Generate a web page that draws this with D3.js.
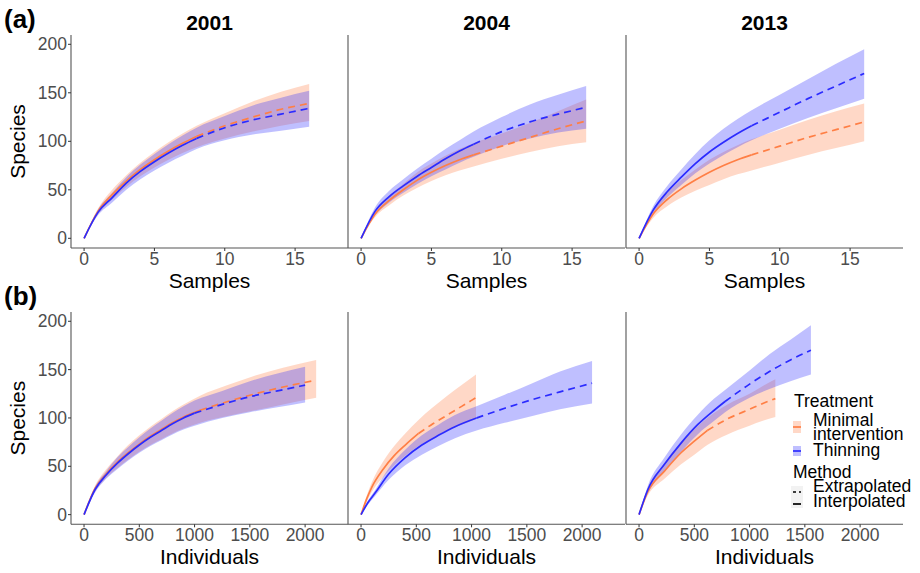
<!DOCTYPE html>
<html lang="en">
<head>
    <meta charset="UTF-8">
    <title>Rarefaction curves</title>
    <script src="https://d3js.org/d3.v7.min.js"></script>
    <style>
        body { margin: 0; background: white; font-family: "Liberation Sans", Arial, sans-serif; }
        .tick-label { font-size: 17.5px; fill: #4d4d4d; }
        .axis-title { font-size: 21px; fill: black; }
        .strip { font-size: 21px; font-weight: bold; fill: black; }
        .tag { font-size: 26px; font-weight: bold; fill: black; }
        .legend-text { font-size: 17.5px; fill: black; }
    </style>
</head>
<body>
<svg id="chart" width="920" height="573"></svg>
<script>
    // categories / ticks
    const years = ["2001", "2004", "2013"];
    const yTicks = [0, 50, 100, 150, 200];
    const sampleTicks = [0, 5, 10, 15];
    const indTicks = [0, 500, 1000, 1500, 2000];

    // (a) sample-based curves, interpolated up to 8 samples then extrapolated
    const samplesX = [0, 1, 2, 3, 4, 5, 6, 7, 8, 10, 12, 14, 16];
    const samplesRef = 8;

    const s2001MinEst = [0, 28, 45, 59, 71, 81, 90, 98, 105, 116, 125, 133, 139];
    const s2001MinLo  = [0, 25, 40, 53, 64, 73, 81, 88, 94, 103, 110, 116, 121];
    const s2001MinHi  = [0, 31, 50, 65, 78, 89, 99, 108, 116, 129, 141, 151, 159];
    const s2001ThiEst = [0, 27, 42, 57, 69, 79, 88, 96, 103, 114, 122, 128, 134];
    const s2001ThiLo  = [0, 24, 37, 50, 61, 70, 78, 85, 92, 101, 107, 111, 115];
    const s2001ThiHi  = [0, 30, 47, 63, 76, 87, 97, 106, 114, 126, 137, 145, 152];

    const s2004MinEst = [0, 25, 39, 50, 60, 68, 75, 81, 86, 95, 104, 113, 121];
    const s2004MinLo  = [0, 22, 34, 44, 52, 59, 65, 70, 74, 82, 89, 95, 99];
    const s2004MinHi  = [0, 28, 44, 56, 68, 77, 85, 92, 98, 108, 119, 131, 143];
    const s2004ThiEst = [0, 28, 43, 54, 64, 73, 82, 90, 97, 110, 120, 128, 135];
    const s2004ThiLo  = [0, 24, 37, 47, 56, 64, 71, 78, 84, 95, 103, 109, 113];
    const s2004ThiHi  = [0, 32, 49, 61, 72, 82, 92, 101, 110, 125, 138, 148, 157];

    const s2013MinEst = [0, 25, 40, 51, 60, 68, 75, 81, 86, 95, 104, 112, 120];
    const s2013MinLo  = [0, 21, 33, 42, 49, 55, 61, 66, 70, 78, 86, 93, 100];
    const s2013MinHi  = [0, 29, 47, 60, 71, 81, 89, 96, 102, 112, 122, 131, 139];
    const s2013ThiEst = [0, 29, 48, 63, 77, 89, 99, 108, 116, 130, 144, 157, 170];
    const s2013ThiLo  = [0, 25, 42, 55, 67, 77, 86, 94, 101, 113, 124, 134, 144];
    const s2013ThiHi  = [0, 33, 54, 71, 87, 101, 113, 123, 132, 148, 164, 180, 195];

    // (b) individual-based curves
    const i2001MinX   = [0, 100, 200, 300, 400, 500, 600, 700, 800, 900, 1050, 1300, 1550, 1800, 2100];
    const i2001MinRef = 1050;
    const i2001MinEst = [0, 27, 42, 54, 64, 73, 81, 88, 95, 101, 108, 117, 125, 132, 139];
    const i2001MinLo  = [0, 24, 38, 48, 57, 65, 72, 78, 84, 89, 95, 102, 108, 114, 121];
    const i2001MinHi  = [0, 30, 47, 60, 72, 82, 91, 99, 107, 114, 123, 134, 144, 152, 160];
    const i2001ThiX   = [0, 100, 200, 300, 400, 500, 600, 700, 800, 900, 1000, 1250, 1500, 1750, 2000];
    const i2001ThiRef = 1000;
    const i2001ThiEst = [0, 26, 41, 53, 63, 72, 80, 87, 94, 100, 105, 114, 122, 128, 134];
    const i2001ThiLo  = [0, 23, 37, 47, 56, 64, 71, 77, 83, 88, 92, 100, 106, 111, 116];
    const i2001ThiHi  = [0, 29, 45, 59, 70, 80, 89, 97, 105, 112, 118, 128, 138, 146, 153];

    const i2004MinX   = [0, 50, 100, 200, 300, 400, 520, 650, 780, 910, 1040];
    const i2004MinRef = 520;
    const i2004MinEst = [0, 16, 29, 47, 61, 72, 84, 94, 103, 112, 121];
    const i2004MinLo  = [0, 13, 24, 39, 51, 61, 71, 79, 87, 93, 99];
    const i2004MinHi  = [0, 19, 34, 55, 71, 84, 98, 111, 123, 134, 145];
    const i2004ThiX   = [0, 60, 125, 250, 400, 550, 700, 850, 1045, 1300, 1550, 1800, 2090];
    const i2004ThiRef = 1045;
    const i2004ThiEst = [0, 12, 22, 42, 59, 72, 82, 91, 100, 110, 119, 127, 136];
    const i2004ThiLo  = [0, 10, 19, 36, 51, 62, 71, 79, 87, 95, 102, 109, 115];
    const i2004ThiHi  = [0, 14, 25, 48, 67, 82, 93, 103, 112, 124, 136, 148, 159];

    const i2013MinX   = [0, 80, 230, 380, 500, 617, 800, 1000, 1120, 1233];
    const i2013MinRef = 617;
    const i2013MinEst = [0, 24, 45, 64, 76, 87, 99, 109, 115, 120];
    const i2013MinLo  = [0, 20, 37, 52, 62, 72, 83, 92, 97, 101];
    const i2013MinHi  = [0, 28, 53, 74, 88, 100, 114, 125, 133, 140];
    const i2013ThiX   = [0, 80, 230, 380, 530, 680, 778, 1000, 1180, 1370, 1555];
    const i2013ThiRef = 778;
    const i2013ThiEst = [0, 26, 52, 74, 93, 108, 117, 135, 148, 160, 170];
    const i2013ThiLo  = [0, 22, 45, 65, 83, 97, 106, 121, 130, 138, 145];
    const i2013ThiHi  = [0, 30, 59, 83, 103, 120, 129, 149, 166, 181, 196];

    const colMin = "#ff7f45";
    const colThi = "#2b2bff";

    function series(x, ref, est, lo, hi, color) {
        return { color: color, ref: ref, pts: x.map((v, i) => ({ x: v, est: est[i], lo: lo[i], hi: hi[i] })) };
    }

    const rowA = [
        [series(samplesX, samplesRef, s2001MinEst, s2001MinLo, s2001MinHi, colMin),
         series(samplesX, samplesRef, s2001ThiEst, s2001ThiLo, s2001ThiHi, colThi)],
        [series(samplesX, samplesRef, s2004MinEst, s2004MinLo, s2004MinHi, colMin),
         series(samplesX, samplesRef, s2004ThiEst, s2004ThiLo, s2004ThiHi, colThi)],
        [series(samplesX, samplesRef, s2013MinEst, s2013MinLo, s2013MinHi, colMin),
         series(samplesX, samplesRef, s2013ThiEst, s2013ThiLo, s2013ThiHi, colThi)]
    ];
    const rowB = [
        [series(i2001MinX, i2001MinRef, i2001MinEst, i2001MinLo, i2001MinHi, colMin),
         series(i2001ThiX, i2001ThiRef, i2001ThiEst, i2001ThiLo, i2001ThiHi, colThi)],
        [series(i2004MinX, i2004MinRef, i2004MinEst, i2004MinLo, i2004MinHi, colMin),
         series(i2004ThiX, i2004ThiRef, i2004ThiEst, i2004ThiLo, i2004ThiHi, colThi)],
        [series(i2013MinX, i2013MinRef, i2013MinEst, i2013MinLo, i2013MinHi, colMin),
         series(i2013ThiX, i2013ThiRef, i2013ThiEst, i2013ThiLo, i2013ThiHi, colThi)]
    ];

    const svg = d3.select("#chart");
    const panelLeft = [71, 348, 626];
    const panelW = 277;

    function drawRow(rows, top, bottom, xDomain, xTicks, xTitle, tag, showStrip) {
        const y = d3.scaleLinear().domain([-10, 209.6]).range([bottom, top]);

        rows.forEach((panelSeries, p) => {
            const x = d3.scaleLinear().domain(xDomain).range([panelLeft[p], panelLeft[p] + panelW]);
            const g = svg.append("g");

            const area = d3.area().curve(d3.curveMonotoneX)
                .x(d => x(d.x)).y0(d => y(d.lo)).y1(d => y(d.hi));
            const line = d3.line().curve(d3.curveMonotoneX)
                .x(d => x(d.x)).y(d => y(d.est));

            panelSeries.forEach(s => {
                g.append("path").attr("d", area(s.pts))
                    .attr("fill", s.color).attr("fill-opacity", 0.3);
            });
            panelSeries.forEach(s => {
                g.append("path").attr("d", line(s.pts.filter(d => d.x <= s.ref)))
                    .attr("fill", "none").attr("stroke", s.color).attr("stroke-width", 1.7);
                g.append("path").attr("d", line(s.pts.filter(d => d.x >= s.ref)))
                    .attr("fill", "none").attr("stroke", s.color).attr("stroke-width", 1.7)
                    .attr("stroke-dasharray", "7,5");
            });

            // axis lines
            g.append("line").attr("x1", panelLeft[p]).attr("x2", panelLeft[p])
                .attr("y1", top).attr("y2", bottom).attr("stroke", "#555").attr("stroke-width", 1.1);
            g.append("line").attr("x1", panelLeft[p]).attr("x2", panelLeft[p] + panelW)
                .attr("y1", bottom).attr("y2", bottom).attr("stroke", "#555").attr("stroke-width", 1.1);

            // x ticks
            xTicks.forEach(t => {
                g.append("line").attr("x1", x(t)).attr("x2", x(t))
                    .attr("y1", bottom).attr("y2", bottom + 3).attr("stroke", "#333");
                g.append("text").attr("class", "tick-label").attr("x", x(t)).attr("y", bottom + 17)
                    .attr("text-anchor", "middle").text(t);
            });

            g.append("text").attr("class", "axis-title")
                .attr("x", panelLeft[p] + panelW / 2).attr("y", bottom + 40)
                .attr("text-anchor", "middle").text(xTitle);

            if (showStrip) {
                g.append("text").attr("class", "strip")
                    .attr("x", panelLeft[p] + panelW / 2).attr("y", 30)
                    .attr("text-anchor", "middle").text(years[p]);
            }

            if (p === 0) {
                yTicks.forEach(t => {
                    g.append("line").attr("x1", panelLeft[0] - 3).attr("x2", panelLeft[0])
                        .attr("y1", y(t)).attr("y2", y(t)).attr("stroke", "#333");
                    g.append("text").attr("class", "tick-label").attr("x", panelLeft[0] - 4)
                        .attr("y", y(t) + 6).attr("text-anchor", "end").text(t);
                });
                g.append("text").attr("class", "axis-title")
                    .attr("transform", `translate(25,${(top + bottom) / 2}) rotate(-90)`)
                    .attr("text-anchor", "middle").text("Species");
            }
        });

        svg.append("text").attr("class", "tag").attr("x", 4).attr("y", top - 7).text(tag);
    }

    drawRow(rowA, 35, 248, [-0.93, 18.76], sampleTicks, "Samples", "(a)", true);
    drawRow(rowB, 312, 524.3, [-118, 2388], indTicks, "Individuals", "(b)", false);

    // legend
    const lg = svg.append("g");
    lg.append("text").attr("class", "legend-text").attr("x", 794).attr("y", 407).text("Treatment");

    lg.append("rect").attr("x", 793).attr("y", 421).attr("width", 8).attr("height", 12)
        .attr("fill", colMin).attr("fill-opacity", 0.3);
    lg.append("line").attr("x1", 793).attr("x2", 801).attr("y1", 427).attr("y2", 427)
        .attr("stroke", colMin).attr("stroke-width", 1.7);
    lg.append("text").attr("class", "legend-text").attr("x", 813).attr("y", 425.5).text("Minimal");
    lg.append("text").attr("class", "legend-text").attr("x", 813).attr("y", 440).text("intervention");

    lg.append("rect").attr("x", 793).attr("y", 446).attr("width", 8).attr("height", 10)
        .attr("fill", colThi).attr("fill-opacity", 0.3);
    lg.append("line").attr("x1", 793).attr("x2", 801).attr("y1", 451).attr("y2", 451)
        .attr("stroke", colThi).attr("stroke-width", 1.7);
    lg.append("text").attr("class", "legend-text").attr("x", 813).attr("y", 456).text("Thinning");

    lg.append("text").attr("class", "legend-text").attr("x", 793).attr("y", 478).text("Method");
    lg.append("rect").attr("x", 791).attr("y", 486).attr("width", 12).attr("height", 22).attr("fill", "#f2f2f2");
    lg.append("line").attr("x1", 793).attr("x2", 801).attr("y1", 492).attr("y2", 492)
        .attr("stroke", "black").attr("stroke-width", 1.5).attr("stroke-dasharray", "3,3");
    lg.append("line").attr("x1", 793).attr("x2", 801).attr("y1", 504).attr("y2", 504)
        .attr("stroke", "black").attr("stroke-width", 1.7);
    lg.append("text").attr("class", "legend-text").attr("x", 813).attr("y", 491.5).text("Extrapolated");
    lg.append("text").attr("class", "legend-text").attr("x", 813).attr("y", 507).text("Interpolated");
</script>
</body>
</html>
